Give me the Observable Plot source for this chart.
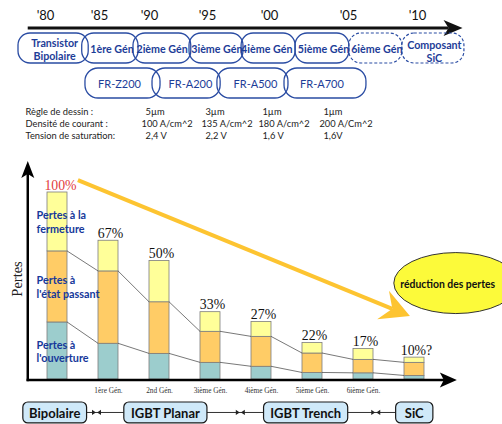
<!DOCTYPE html>
<html><head><meta charset="utf-8">
<script src="https://cdn.jsdelivr.net/npm/d3@7"></script>
<script src="https://cdn.jsdelivr.net/npm/@observablehq/plot@0.6"></script>
<style>
html,body{margin:0;padding:0;background:#fff;}
#chart{width:502px;height:424px;overflow:hidden;}
#chart svg{display:block;}
</style></head><body><div id="chart"></div>
<script>
// ---------- timeline data ----------
const yearTicks = [1980, 1985, 1990, 1995, 2000, 2005, 2010];
const yearTickLabels = ["'80", "'85", "'90", "'95", "'00", "'05", "'10"];
const yearTickRange = [45, 99, 149, 207, 269, 348, 417]; // non-uniform spacing as drawn
const timelineSpan = [1978.4, 2013.3];

const genNames = ["Transistor\nBipolaire", "1ère Gén", "2ième Gén", "3ième Gén", "4ième Gén", "5ième Gén", "6ième Gén", "Composant\nSiC"];
const genStart = [1977.5, 1983.4, 1988.4, 1993.45, 1997.75, 2001.65, 2005.06, 2008.9];
const genEnd   = [1984.0, 1988.9, 1993.6, 1997.9, 2001.65, 2005.06, 2008.9, 2013.4];
const genPlanned = [false, false, false, false, false, false, true, true];

const productNames = ["FR-Z200", "FR-A200", "FR-A500", "FR-A700"];
const productStart = [1983.7, 1990.26, 1995.8, 2000.95];
const productEnd   = [1990.95, 1996.06, 2001.2, 2006.3];
const productLabelX = [1987.0, 1993.53, 1998.87, 2003.32];

const specLabels = ["Règle de dessin :", "Densité de courant :", "Tension de saturation:"];
const designRule = ["5µm", "3µm", "1µm", "1µm"];
const currentDensity = ["100 A/cm^2", "135 A/cm^2", "180 A/cm^2", "200 A/Cm^2"];
const satVoltage = ["2,4 V", "2,2 V", "1,6 V", "1,6V"];
const specColumnX = [1989.2, 1994.48, 1999.11, 2003.16];

// ---------- loss bars data ----------
const gens = ["Bipolaire", "1ère Gén.", "2nd Gén.", "3ième Gén.", "4ième Gén.", "5ième Gén.", "6ième Gén.", "SiC"];
const genTickLabels = ["", "1ère Gén.", "2nd Gén.", "3ième Gén.", "4ième Gén.", "5ième Gén.", "6ième Gén.", ""];
const lossTypes = ["Pertes à\nl'ouverture", "Pertes à\nl'état passant", "Pertes à la\nfermeture"];
const turnOnLoss     = [30.5, 19.1, 13.7, 8.9, 6.8, 3.5, 3.3, 1.9];
const conductionLoss = [38.0, 38.7, 27.6, 16.6, 16.0, 10.4, 7.2, 7.0];
const turnOffLoss    = [31.5, 16.4, 22.1, 10.5, 8.0, 5.6, 5.8, 2.8];
const totalLabels = ["100%", "67%", "50%", "33%", "27%", "22%", "17%", "10%?"];
const lossColors = ["#9ccdcd", "#ffcc66", "#ffff99"];

const familyNames = ["Bipolaire", "IGBT Planar", "IGBT Trench", "SiC"];
const familyFrom = [-0.67, 1.31, 4.05, 6.64];   // in generation-index units
const familyTo   = [0.58, 2.94, 5.70, 7.37];
const familyLinkMarks = [0.775, 3.594, 6.25];
const trendLabel = "réduction des pertes";

// ---------- styles ----------
const SANS = "Lato, 'Open Sans', 'Noto Sans', sans-serif";
const SERIF = "'Liberation Serif', 'DejaVu Serif', serif";
const BLUE = "#2a4ca3";
const BLUE_TXT = "#1d3d98";

function arrowHead(g, tx, ty, ux, uy, len, half, notch, fill) {
  const nx = -uy, ny = ux;
  const bx = tx - ux * len, by = ty - uy * len;
  const pts = [[tx, ty], [bx + nx * half, by + ny * half], [tx - ux * notch, ty - uy * notch], [bx - nx * half, by - ny * half]];
  g.append("path").attr("d", "M" + pts.map(p => p.join(",")).join("L") + "Z").attr("fill", fill);
}

// ---------- top plot : timeline ----------
const ROW = {year: 15, line: 28, gen: [33, 63], prod: [68, 98], spec: [112, 124, 136]};
const gi = genNames.map((d, i) => i);
const pi = productNames.map((d, i) => i);

function timelineDecor(index, scales) {
  const x = scales.x, y = scales.y;
  const g = d3.create("svg:g");
  const x0 = x(timelineSpan[0]), x1 = x(timelineSpan[1]), yy = y(ROW.line);
  g.append("line").attr("x1", x0).attr("x2", x1 - 14).attr("y1", yy).attr("y2", yy)
    .attr("stroke", "#111").attr("stroke-width", 3);
  arrowHead(g, x1, yy, 1, 0, 19, 8, 14, "#111");
  return g.node();
}

const topPlot = Plot.plot({
  width: 502, height: 150, margin: 0,
  style: {fontFamily: SANS, background: "white", overflow: "visible"},
  x: {type: "linear", domain: yearTicks, range: yearTickRange, axis: null},
  y: {domain: [0, 150], range: [0, 150], axis: null},
  marks: [
    Plot.text(yearTicks, {x: d => d, y: () => ROW.year, text: (d, i) => yearTickLabels[i], fontSize: 13, fill: "#111", fontFamily: SANS}),
    timelineDecor,
    Plot.rect(gi.filter(i => !genPlanned[i]), {x1: i => genStart[i], x2: i => genEnd[i], y1: () => ROW.gen[0], y2: () => ROW.gen[1], rx: 12, fill: "none", stroke: BLUE, strokeWidth: 1.3}),
    Plot.rect(gi.filter(i => genPlanned[i]), {x1: i => genStart[i], x2: i => genEnd[i], y1: () => ROW.gen[0], y2: () => ROW.gen[1], rx: 12, fill: "none", stroke: BLUE, strokeWidth: 1.2, strokeDasharray: "3,2"}),
    Plot.text(gi, {x: i => (genStart[i] + genEnd[i]) / 2, y: i => i === 7 ? 51 : 48.5, text: i => genNames[i], dx: 1, fontWeight: "bold", fontSize: 10.7, lineHeight: 1.22, fill: BLUE_TXT, fontFamily: SANS}),
    Plot.rect(pi, {x1: i => productStart[i], x2: i => productEnd[i], y1: () => ROW.prod[0], y2: () => ROW.prod[1], rx: 13, fill: "none", stroke: BLUE, strokeWidth: 1.3}),
    Plot.text(pi, {x: i => productLabelX[i], y: () => 84, text: i => productNames[i], fontSize: 11, fill: BLUE_TXT, fontFamily: SANS}),
    Plot.text(specLabels, {x: () => 1978.15, y: (d, i) => ROW.spec[i], text: d => d, textAnchor: "start", fontSize: 9.3, fill: "#222", fontFamily: SANS}),
    Plot.text(designRule, {x: (d, i) => specColumnX[i], y: () => ROW.spec[0], text: d => d, dx: 4, textAnchor: "start", fontSize: 9.3, fill: "#222", fontFamily: SANS}),
    Plot.text(currentDensity, {x: (d, i) => specColumnX[i], y: () => ROW.spec[1], text: d => d, textAnchor: "start", fontSize: 9.3, fill: "#222", fontFamily: SANS}),
    Plot.text(satVoltage, {x: (d, i) => specColumnX[i], y: () => ROW.spec[2], text: d => d, dx: 4, textAnchor: "start", fontSize: 9.3, fill: "#222", fontFamily: SANS})
  ]
});

// ---------- bottom plot : stacked losses ----------
const segments = [];
gens.forEach((g, i) => {
  segments.push({gen: g, type: lossTypes[0], value: turnOnLoss[i]});
  segments.push({gen: g, type: lossTypes[1], value: conductionLoss[i]});
  segments.push({gen: g, type: lossTypes[2], value: turnOffLoss[i]});
});
const cum1 = turnOnLoss;
const cum2 = turnOnLoss.map((v, i) => v + conductionLoss[i]);
const totals = cum2.map((v, i) => v + turnOffLoss[i]);

function lossDecor(index, scales) {
  const x = scales.x, y = scales.y;
  const bw = x.bandwidth ? x.bandwidth() : 20.4;
  const step = x.step ? x.step() : 51;
  const X = t => x(gens[0]) + bw / 2 + t * step;
  const g = d3.create("svg:g");
  // connecting lines between stacked boundaries
  for (const c of [cum1, cum2]) {
    for (let i = 0; i < gens.length - 1; i++) {
      g.append("line").attr("x1", x(gens[i]) + bw).attr("y1", y(c[i]))
        .attr("x2", x(gens[i + 1])).attr("y2", y(c[i + 1]))
        .attr("stroke", "#555").attr("stroke-width", 0.8);
    }
  }
  // axes with arrow heads
  const ax = X(-0.573), base = y(0) + 1, top = y(116.6), xend = X(7.84);
  g.append("line").attr("x1", ax).attr("x2", ax).attr("y1", base + 1.2).attr("y2", top + 12)
    .attr("stroke", "#000").attr("stroke-width", 2.5);
  arrowHead(g, ax, top, 0, -1, 17, 6.5, 13, "#000");
  g.append("line").attr("x1", ax - 1.2).attr("x2", xend - 12).attr("y1", base).attr("y2", base)
    .attr("stroke", "#000").attr("stroke-width", 2.5);
  arrowHead(g, xend, base, 1, 0, 17, 7.5, 13, "#000");
  // y label
  g.append("text").attr("transform", `translate(${X(-0.788)},${y(53.5)}) rotate(-90)`)
    .attr("text-anchor", "middle").attr("dominant-baseline", "central")
    .attr("font-family", SERIF).attr("font-size", 14.5).attr("fill", "#222").text("Pertes");
  // trend arrow
  const sx = X(0.41), sy = y(106.4), tx = X(6.92), ty = y(33.7);
  const L = Math.hypot(tx - sx, ty - sy), ux = (tx - sx) / L, uy = (ty - sy) / L;
  g.append("line").attr("x1", sx).attr("y1", sy).attr("x2", tx - ux * 19).attr("y2", ty - uy * 19)
    .attr("stroke", "#fdc431").attr("stroke-width", 4);
  arrowHead(g, tx, ty, ux, uy, 29, 15.5, 19, "#fdc431");
  // ellipse bubble
  g.append("ellipse").attr("cx", X(7.82)).attr("cy", y(51.3)).attr("rx", 62).attr("ry", 30.5)
    .attr("fill", "#fcfa3a").attr("stroke", "#333").attr("stroke-width", 1);
  g.append("text").attr("x", X(6.73)).attr("y", y(51.0)).attr("text-anchor", "start").attr("dominant-baseline", "central")
    .attr("font-family", SANS).attr("font-weight", "bold").attr("font-size", 10.4).attr("fill", "#111").text(trendLabel);
  // family boxes
  const by1 = y(-12.3), by2 = y(-23.5), bm = (by1 + by2) / 2;
  for (let i = 0; i < familyNames.length - 1; i++) {
    g.append("line").attr("x1", X(familyTo[i])).attr("x2", X(familyFrom[i + 1])).attr("y1", bm).attr("y2", bm)
      .attr("stroke", "#333").attr("stroke-width", 1);
    const c = X(familyLinkMarks[i]);
    g.append("path").attr("d", `M${c - 4.5},${bm - 2.6}L${c - 0.6},${bm}L${c - 4.5},${bm + 2.6}Z`).attr("fill", "#222");
    g.append("path").attr("d", `M${c + 4.5},${bm - 2.6}L${c + 0.6},${bm}L${c + 4.5},${bm + 2.6}Z`).attr("fill", "#222");
  }
  familyNames.forEach((name, i) => {
    const a = X(familyFrom[i]), b = X(familyTo[i]);
    g.append("rect").attr("x", a).attr("y", by1).attr("width", b - a).attr("height", by2 - by1)
      .attr("rx", 5).attr("fill", "#cfe9f9").attr("stroke", "#1a1a1a").attr("stroke-width", 1.2);
    g.append("text").attr("x", (a + b) / 2).attr("y", bm + 0.5).attr("text-anchor", "middle")
      .attr("dominant-baseline", "central").attr("font-family", SANS).attr("font-weight", "bold")
      .attr("font-size", 13).attr("fill", "#111").text(name);
  });
  return g.node();
}

const bottomPlot = Plot.plot({
  width: 502, height: 274, margin: 0,
  style: {fontFamily: SANS, background: "white", overflow: "visible"},
  x: {type: "band", domain: gens, range: [31.7, 439.7], paddingInner: 0.6, paddingOuter: 0.3, axis: null},
  y: {domain: [0, 100], range: [229, 42], axis: null},
  color: {domain: lossTypes, range: lossColors},
  marks: [
    Plot.barY(segments, {x: "gen", y: "value", fill: "type", stroke: "#7d7d7d", strokeWidth: 0.8}),
    lossDecor,
    Plot.text([0], {x: () => gens[0], y: () => totals[0], text: () => totalLabels[0], dx: 3, dy: -3, lineAnchor: "bottom", fontFamily: SERIF, fontSize: 13.8, fill: "#e23b3b"}),
    Plot.text(gens.slice(1), {x: d => d, y: (d, i) => totals[i + 1], text: (d, i) => totalLabels[i + 1], dx: 2, dy: -3, lineAnchor: "bottom", fontFamily: SERIF, fontSize: 13.8, fill: "#111"}),
    Plot.text(gens, {x: d => d, y: () => 0, text: (d, i) => genTickLabels[i], dy: 11, fontFamily: SERIF, fontSize: 7.3, fill: "#333"}),
    Plot.text(lossTypes, {x: () => gens[0], y: (d, i) => i === 0 ? cum1[0] / 2 : i === 1 ? (cum1[0] + cum2[0]) / 2 : (cum2[0] + totals[0]) / 2,
      text: d => d, dx: -21, textAnchor: "start", fontWeight: "bold", fontSize: 10.8, lineHeight: 1.27, fill: "#16389a", fontFamily: SANS})
  ]
});

const root = document.getElementById("chart");
root.appendChild(topPlot);
root.appendChild(bottomPlot);
</script>
</body></html>
